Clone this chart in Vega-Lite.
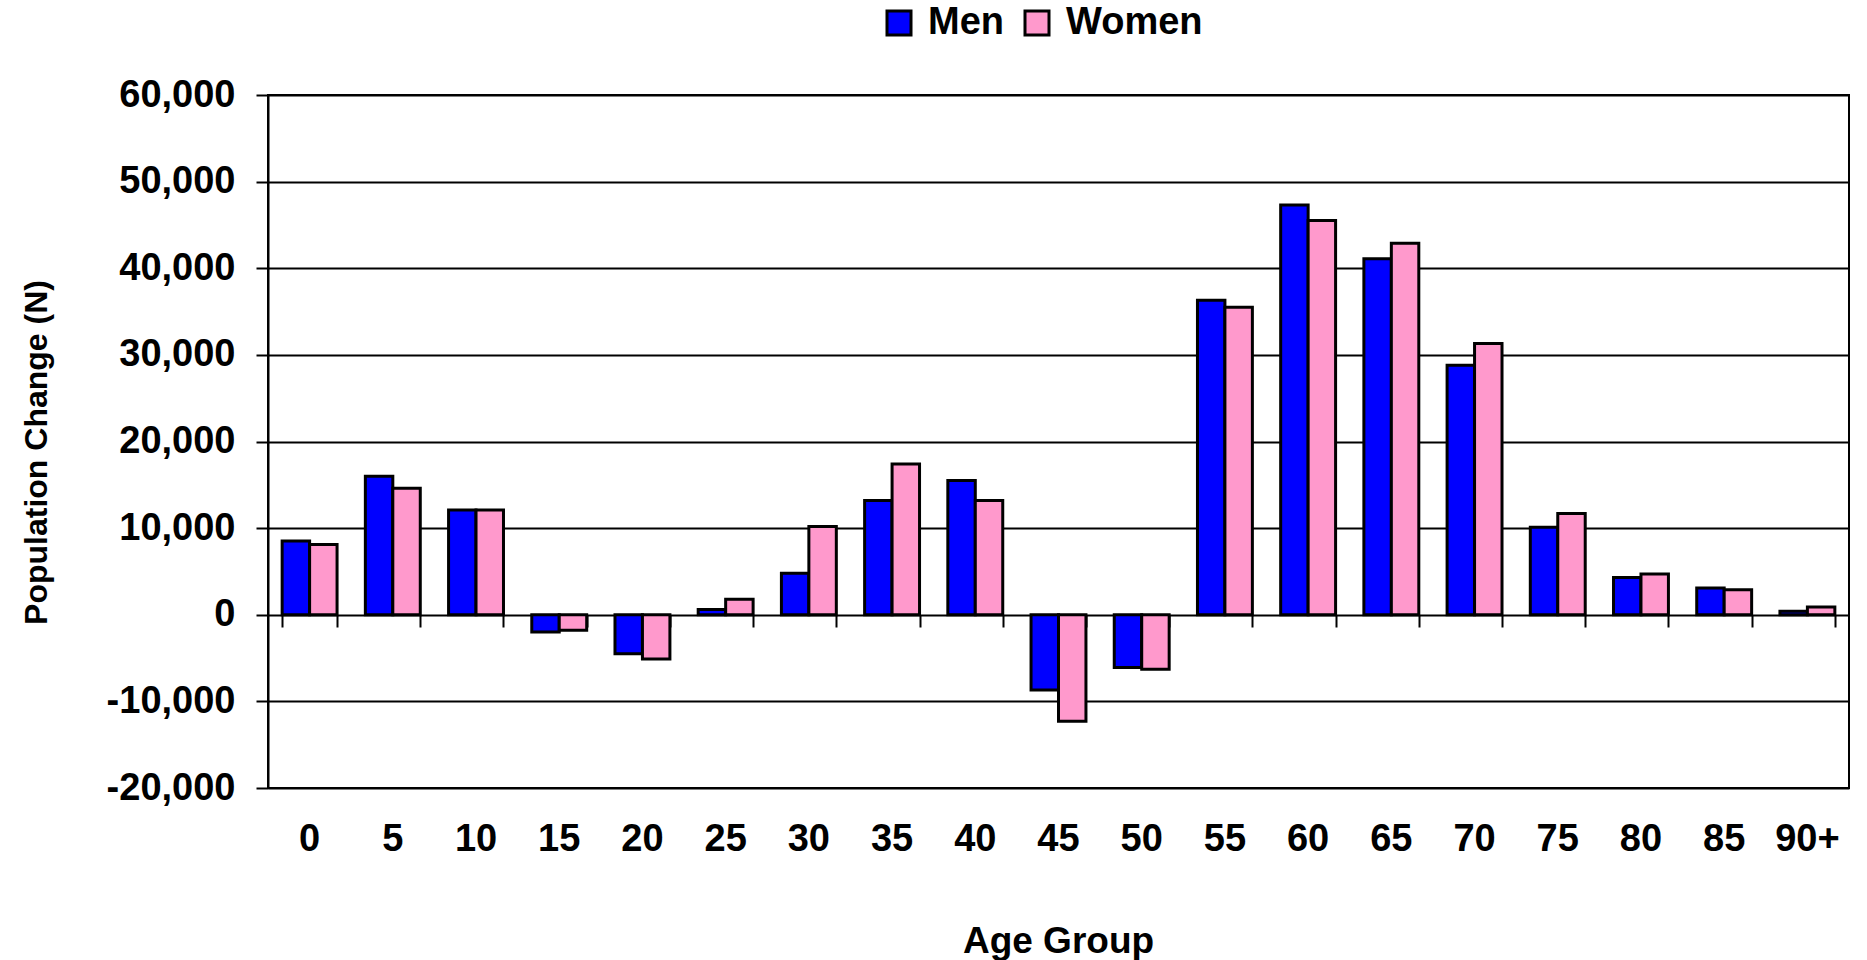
{
  "$schema": "https://vega.github.io/schema/vega-lite/v6.json",
  "width": 1581,
  "height": 693,
  "autosize": {"type": "none"},
  "padding": {"left": 268, "top": 95, "right": 18, "bottom": 172},
  "config": {
    "font": "Liberation Sans",
    "view": {"stroke": "black", "strokeWidth": 2}
  },
  "data": {
    "values": [
      {"age": "0", "sex": "Men", "value": 8500}, {"age": "0", "sex": "Women", "value": 8100},
      {"age": "5", "sex": "Men", "value": 16000}, {"age": "5", "sex": "Women", "value": 14600},
      {"age": "10", "sex": "Men", "value": 12100}, {"age": "10", "sex": "Women", "value": 12100},
      {"age": "15", "sex": "Men", "value": -2000}, {"age": "15", "sex": "Women", "value": -1800},
      {"age": "20", "sex": "Men", "value": -4500}, {"age": "20", "sex": "Women", "value": -5100},
      {"age": "25", "sex": "Men", "value": 600}, {"age": "25", "sex": "Women", "value": 1800},
      {"age": "30", "sex": "Men", "value": 4800}, {"age": "30", "sex": "Women", "value": 10200},
      {"age": "35", "sex": "Men", "value": 13200}, {"age": "35", "sex": "Women", "value": 17400},
      {"age": "40", "sex": "Men", "value": 15500}, {"age": "40", "sex": "Women", "value": 13200},
      {"age": "45", "sex": "Men", "value": -8700}, {"age": "45", "sex": "Women", "value": -12300},
      {"age": "50", "sex": "Men", "value": -6100}, {"age": "50", "sex": "Women", "value": -6300},
      {"age": "55", "sex": "Men", "value": 36300}, {"age": "55", "sex": "Women", "value": 35500},
      {"age": "60", "sex": "Men", "value": 47300}, {"age": "60", "sex": "Women", "value": 45500},
      {"age": "65", "sex": "Men", "value": 41100}, {"age": "65", "sex": "Women", "value": 42900},
      {"age": "70", "sex": "Men", "value": 28800}, {"age": "70", "sex": "Women", "value": 31300},
      {"age": "75", "sex": "Men", "value": 10100}, {"age": "75", "sex": "Women", "value": 11700},
      {"age": "80", "sex": "Men", "value": 4300}, {"age": "80", "sex": "Women", "value": 4700},
      {"age": "85", "sex": "Men", "value": 3100}, {"age": "85", "sex": "Women", "value": 2900},
      {"age": "90+", "sex": "Men", "value": 400}, {"age": "90+", "sex": "Women", "value": 900}
    ]
  },
  "resolve": {"axis": {"x": "independent"}},
  "layer": [
    {
      "mark": {"type": "bar", "stroke": "black", "strokeWidth": 3},
      "encoding": {
        "x": {
          "field": "age", "type": "nominal",
          "sort": ["0","5","10","15","20","25","30","35","40","45","50","55","60","65","70","75","80","85","90+"],
          "scale": {"paddingInner": 0.34, "paddingOuter": 0.17},
          "axis": {
            "orient": "bottom", "domain": false, "ticks": false, "tickSize": 0, "grid": false,
            "labelAngle": 0, "labelFontSize": 38, "labelFontWeight": "bold", "labelColor": "black",
            "labelPadding": 32,
            "title": "Age Group", "titleFontSize": 37, "titleFontWeight": "bold", "titleColor": "black",
            "titleX": 790, "titleY": 164, "titleBaseline": "alphabetic", "titleAnchor": "middle"
          }
        },
        "xOffset": {"field": "sex", "type": "nominal", "sort": ["Men", "Women"], "scale": {"paddingInner": 0, "paddingOuter": 0}},
        "y": {
          "field": "value", "type": "quantitative",
          "scale": {"domain": [-20000, 60000], "nice": false, "zero": false},
          "axis": {
            "values": [-20000, -10000, 0, 10000, 20000, 30000, 40000, 50000, 60000],
            "format": ",d",
            "labelExpr": "replace(datum.label, '\u2212', '-')",
            "grid": true, "gridColor": "black", "gridWidth": 2, "gridOpacity": 1,
            "domain": true, "domainColor": "black", "domainWidth": 2,
            "ticks": true, "tickColor": "black", "tickWidth": 2, "tickSize": 12,
            "labelFontSize": 38, "labelFontWeight": "bold", "labelColor": "black", "labelPadding": 21,
            "title": "Population Change (N)", "titleFontSize": 32, "titleFontWeight": "bold", "titleColor": "black",
            "titleAngle": -90, "titleX": -232, "titleY": 357, "titleAlign": "center", "titleBaseline": "middle"
          }
        },
        "color": {
          "field": "sex", "type": "nominal",
          "scale": {"domain": ["Men", "Women"], "range": ["#0000FF", "#FF99CC"]},
          "legend": {
            "orient": "none", "legendX": 612, "legendY": -91, "direction": "horizontal",
            "title": null, "symbolType": "square", "symbolSize": 576,
            "symbolStrokeColor": "black", "symbolStrokeWidth": 3, "symbolOpacity": 1,
            "labelFontSize": 38, "labelFontWeight": "bold", "labelColor": "black",
            "labelOffset": 10, "columnPadding": 14
          }
        }
      }
    },
    {
      "mark": {"type": "point", "opacity": 0},
      "encoding": {
        "x": {
          "field": "age", "type": "nominal",
          "sort": ["0","5","10","15","20","25","30","35","40","45","50","55","60","65","70","75","80","85","90+"],
          "axis": {
            "orient": "bottom", "offset": -173, "domain": false, "labels": false, "grid": false,
            "ticks": true, "tickBand": "extent", "tickSize": 12, "tickColor": "black", "tickWidth": 2,
            "title": null
          }
        },
        "y": {"datum": 0}
      }
    }
  ]
}
